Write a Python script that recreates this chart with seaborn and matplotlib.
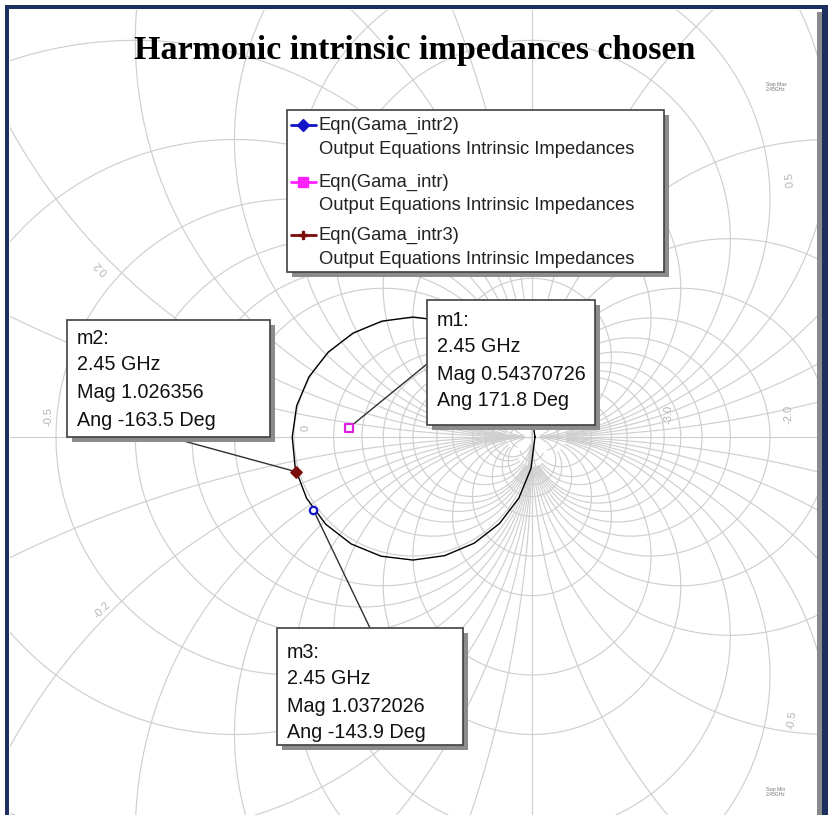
import numpy as np
import pandas as pd
import matplotlib
matplotlib.use("Agg")
import matplotlib.pyplot as plt
import seaborn as sns
from matplotlib.patches import Rectangle

# ---------------------------------------------------------------- data
title = "Harmonic intrinsic impedances chosen"

series_names = ["Eqn(Gama_intr2)", "Eqn(Gama_intr)", "Eqn(Gama_intr3)"]
series_desc = "Output Equations Intrinsic Impedances"
series_colors = ["#1414c8", "#ff22ff", "#7a0c0c"]
series_markers = ["D", "s", "P"]

marker_names = ["m1", "m2", "m3"]
marker_series = ["Eqn(Gama_intr)", "Eqn(Gama_intr3)", "Eqn(Gama_intr2)"]
marker_freq = ["2.45 GHz", "2.45 GHz", "2.45 GHz"]
marker_mag = [0.54370726, 1.026356, 1.0372026]
marker_ang = [171.8, -163.5, -143.9]

# swept reflection trace (polar form, degrees)
trace_ang = [0, 15, 30, 45, 60, 75, 90, 105, 120, 135, 150, 165, 180,
             195, 210, 225, 240, 255, 270, 285, 300, 315, 330, 345, 360]
trace_mag = [1.025, 1.020, 1.018, 1.015, 1.012, 1.010, 1.008, 1.008, 1.008,
             1.008, 1.010, 1.012, 1.015, 1.024, 1.032, 1.037, 1.038, 1.037,
             1.034, 1.032, 1.030, 1.028, 1.027, 1.026, 1.025]

# Smith grid: constant resistance and reactance values
r_grid = [0.2, 0.4, 0.6, 0.8, 1.0, 1.5, 2.0, 3.0, 4.0, 5.0, 10.0,
          -0.2, -0.3, -0.4, -0.5, -0.6, -0.7, -0.8, -0.9,
          -1.2, -1.4, -1.6, -1.8, -2.0, -2.2, -2.4, -2.6, -2.8, -3.0,
          -3.5, -4.0, -5.0, -10.0]
x_grid = [0.1, 0.2, 0.3, 0.4, 0.5, 0.6, 0.8, 1.0, 1.5, 2.0, 3.0, 4.0, 5.0, 10.0]
major = [0.2, 0.5, 1.0, 2.0, 5.0]

grid_labels = ["0", "-0.5", "-2.0", "-3.0", "0.2", "-0.2", "0.5", "-0.5"]
grid_label_px = [(306, 428), (48, 416), (789, 414), (668, 414), (101, 268),
                 (102, 610), (790, 180), (792, 720)]
grid_label_rot = [90, 90, 90, 90, 135, 45, 95, 82]

# ---------------------------------------------------------------- layout
W, H = 832, 815
CX, CY, S = 413.0, 437.0, 119.0      # pixel of gamma=0, pixels per unit


def gx(px):
    return (px - CX) / S


def gy(py):
    return (CY - py) / S


def fx(px):
    return px / W


def fy(py):
    return 1 - py / H


sns.set_theme(style="white")
plt.rcParams["font.family"] = ["Liberation Sans", "DejaVu Sans"]

fig = plt.figure(figsize=(W / 100, H / 100), dpi=100)
fig.patch.set_facecolor("white")

L, R, T, B = 10, 817, 10, 815
ax = fig.add_axes([fx(L), fy(B), (R - L) / W, (B - T) / H])
ax.set_xlim(gx(L), gx(R))
ax.set_ylim(gy(B), gy(T))
ax.set_aspect("equal", adjustable="box")
ax.axis("off")

# ---------------------------------------------------------------- Smith grid
gcol = "#cfcfcf"
glw = 0.85
t = np.linspace(0, 2 * np.pi, 6001)


def is_major(v):
    return any(abs(abs(v) - m) < 1e-9 for m in major)


def draw_masked(g, keep):
    g = g.copy()
    g[~keep] = np.nan
    ax.plot(g.real, g.imag, color=gcol, lw=glw, zorder=1, solid_capstyle="butt")


for r in r_grid:
    c = r / (1 + r)
    rad = 1 / abs(1 + r)
    g = c + rad * np.exp(1j * t)
    with np.errstate(divide="ignore", invalid="ignore"):
        z = (1 + g) / (1 - g)
    lim = 30.0 if is_major(r) else 8.0
    draw_masked(g, np.abs(z.imag) <= lim)

for xv in x_grid:
    for s in (1, -1):
        xx = s * xv
        rad = 1 / abs(xx)
        g = 1 + 1j / xx + rad * np.exp(1j * t)
        with np.errstate(divide="ignore", invalid="ignore"):
            z = (1 + g) / (1 - g)
        lim = 30.0 if is_major(xv) else 8.0
        draw_masked(g, np.abs(z.real) <= lim)

# r = 0 circle, r = -1 line and real axis
ax.plot(np.cos(t), np.sin(t), color=gcol, lw=glw, zorder=1)
ax.plot([1, 1], [-10, 10], color=gcol, lw=glw, zorder=1)
ax.plot([-10, 10], [0, 0], color=gcol, lw=glw, zorder=1)

for lab, (px, py), rot in zip(grid_labels, grid_label_px, grid_label_rot):
    ax.text(gx(px), gy(py), lab, color="#b4b4b4", fontsize=8, rotation=rot,
            ha="center", va="center", zorder=2)

# ---------------------------------------------------------------- trace
ta = np.deg2rad(trace_ang)
trace = pd.DataFrame({"re": np.array(trace_mag) * np.cos(ta),
                      "im": np.array(trace_mag) * np.sin(ta)})
sns.lineplot(data=trace, x="re", y="im", sort=False, estimator=None,
             color="black", lw=1.0, ax=ax, zorder=3)

# markers
ma = np.deg2rad(marker_ang)
mk = pd.DataFrame({"name": marker_names, "series": marker_series,
                   "re": np.array(marker_mag) * np.cos(ma),
                   "im": np.array(marker_mag) * np.sin(ma)})
mstyle = {"Eqn(Gama_intr)": ("s", "#e020e0"),
          "Eqn(Gama_intr3)": ("D", "#7a0c0c"),
          "Eqn(Gama_intr2)": ("o", "#1414c8")}
for _, row in mk.iterrows():
    m, c = mstyle[row["series"]]
    sns.scatterplot(x=[row["re"]], y=[row["im"]], marker=m, s=28,
                    facecolor="white" if m != "D" else c, edgecolor=c,
                    linewidth=1.6, ax=ax, zorder=6)

# marker boxes with leader lines
boxes = {"m1": (427, 300, 595, 425), "m2": (67, 320, 270, 437), "m3": (277, 628, 463, 745)}
leaders = {"m1": (427, 364), "m2": (180, 440), "m3": (370, 628)}
line_y = {"m1": [321, 347, 374, 401], "m2": [338, 364, 392, 420], "m3": [652, 679, 706, 732]}
for i, row in mk.iterrows():
    name = row["name"]
    lx, ly = leaders[name]
    ax.plot([row["re"], gx(lx)], [row["im"], gy(ly)], color="#303030", lw=1.0, zorder=4)
    x0, y0, x1, y1 = boxes[name]
    ax.add_patch(Rectangle((gx(x0 + 5), gy(y1 + 5)), (x1 - x0) / S, (y1 - y0) / S,
                           facecolor="#8c8c8c", edgecolor="none", zorder=7))
    ax.add_patch(Rectangle((gx(x0), gy(y1)), (x1 - x0) / S, (y1 - y0) / S,
                           facecolor="white", edgecolor="#404040", lw=1.2, zorder=8))
    lines = [name + ":", marker_freq[i], f"Mag {marker_mag[i]}", f"Ang {marker_ang[i]} Deg"]
    for txt, yy in zip(lines, line_y[name]):
        ax.text(gx(x0 + 10), gy(yy), txt, fontsize=14.2, color="#111111",
                ha="left", va="center", zorder=9)

# legend box
lx0, ly0, lx1, ly1 = 287, 110, 664, 272
ax.add_patch(Rectangle((gx(lx0 + 5), gy(ly1 + 5)), (lx1 - lx0) / S, (ly1 - ly0) / S,
                       facecolor="#8c8c8c", edgecolor="none", zorder=7))
ax.add_patch(Rectangle((gx(lx0), gy(ly1)), (lx1 - lx0) / S, (ly1 - ly0) / S,
                       facecolor="white", edgecolor="#404040", lw=1.2, zorder=8))
ent_y = [125, 182, 235]
for name, col, m, yy in zip(series_names, series_colors, series_markers, ent_y):
    ax.plot([gx(291), gx(316)], [gy(yy), gy(yy)], color=col, lw=2, zorder=9)
    ax.plot([gx(303)], [gy(yy)], marker=m, color=col, ms=6 if m != "s" else 7, zorder=9)
    ax.text(gx(318), gy(yy), name, fontsize=13.2, color="#222222", ha="left",
            va="center", zorder=9)
    ax.text(gx(319), gy(yy + 24), series_desc, fontsize=13.2, color="#222222",
            ha="left", va="center", zorder=9)

# sweep annotations
for txt, py in [("Swp Max\n2.45GHz", 87), ("Swp Min\n2.45GHz", 792)]:
    ax.text(gx(776), gy(py), txt, fontsize=3.6, color="#777777", ha="center",
            va="center", linespacing=1.0, zorder=2)

# title
fig.text(fx(415), fy(50), title, fontsize=24.5, fontweight="bold", color="black",
         family=["Liberation Serif", "DejaVu Serif"], ha="center", va="center")

# page frame
navy = "#1c2f5e"
fig.patches.append(Rectangle((fx(5), fy(815)), 4 / W, 810 / H, transform=fig.transFigure,
                             facecolor=navy, edgecolor="none"))
fig.patches.append(Rectangle((fx(5), fy(9)), 822 / W, 4 / H, transform=fig.transFigure,
                             facecolor=navy, edgecolor="none"))
fig.patches.append(Rectangle((fx(817), fy(815)), 5 / W, 803 / H, transform=fig.transFigure,
                             facecolor="#8a8a8a", edgecolor="none"))
fig.patches.append(Rectangle((fx(822), fy(815)), 6 / W, 810 / H, transform=fig.transFigure,
                             facecolor=navy, edgecolor="none"))

fig.savefig("out.png", dpi=100)
